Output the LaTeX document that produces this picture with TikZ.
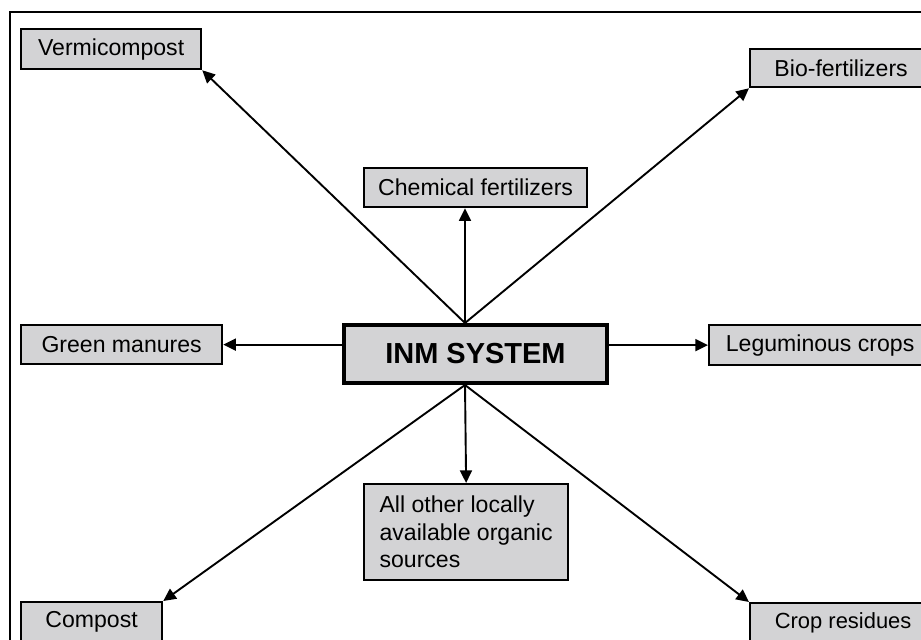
\documentclass[tikz,border=0pt]{standalone}
\usepackage{fontspec}
\setmainfont{Liberation Sans}
\usepackage{xcolor}
\usetikzlibrary{arrows.meta, positioning}
\definecolor{boxgray}{RGB}{211,211,213}
\def\pxl{0.025cm}

\begin{document}
\begin{tikzpicture}[x=0.025cm, y=-0.025cm,
    leaf/.style={draw, fill=boxgray, line width=1.6pt, inner sep=0pt, anchor=north west,
      font=\fontsize{16.4}{19.5}\selectfont},
    hub/.style={draw, fill=boxgray, line width=3.4pt, inner sep=0pt,
      font=\fontsize{20.6}{24}\selectfont\bfseries},
    arr/.style={line width=1.35pt, -{Triangle[length=9pt, width=8.5pt]}}]
          \clip (0,0) rectangle (921,639);
          \fill[white] (0,0) rectangle (921,639);
          % outer frame
          \draw[line width=1.4pt] (10,660) |- (940,12);
          \node[hub, minimum width=263*\pxl, minimum height=58*\pxl] (inm) at (475.5,354) {INM SYSTEM};
          \node[leaf, minimum width=180*\pxl, minimum height=40*\pxl] (vermi) at (20,28) {Vermicompost};
          \node[leaf, minimum width=223*\pxl, minimum height=39*\pxl] (chem) at (363,167) {Chemical fertilizers};
          \node[leaf, minimum width=182*\pxl, minimum height=38*\pxl] (bio) at (749,48) {Bio-fertilizers};
          \node[leaf, minimum width=201*\pxl, minimum height=39*\pxl] (green) at (20,324) {Green manures};
          \node[leaf, minimum width=222*\pxl, minimum height=40*\pxl] (legum) at (708,324) {Leguminous crops};
          \node[leaf, minimum width=204*\pxl, minimum height=96*\pxl, align=left] (other) at (363,483)
            {All other locally\\available organic\\sources};
          \node[leaf, minimum width=186*\pxl, minimum height=40*\pxl,
            font=\fontsize{15.6}{18.5}\selectfont] (crop) at (749,602) {Crop residues};
          \node[leaf, minimum width=141*\pxl, minimum height=40*\pxl] (compost) at (20,601) {Compost};
          % arrows leave the hub a little left of its centre
          \coordinate (hubN) at (465,323);
          \coordinate (hubS) at (465,385);
          \foreach \t in {vermi.south east, bio.south west}
            \draw[arr] (hubN) -- (\t);
          \draw[arr] (hubN) -- (hubN |- chem.south);
          \foreach \t in {compost.north east, other.north, crop.north west}
            \draw[arr] (hubS) -- (\t);
          \draw[arr] (inm.west |- green.east) -- (green.east);
          \draw[arr] (inm.east |- legum.west) -- (legum.west);
        \end{tikzpicture}
\end{document}
